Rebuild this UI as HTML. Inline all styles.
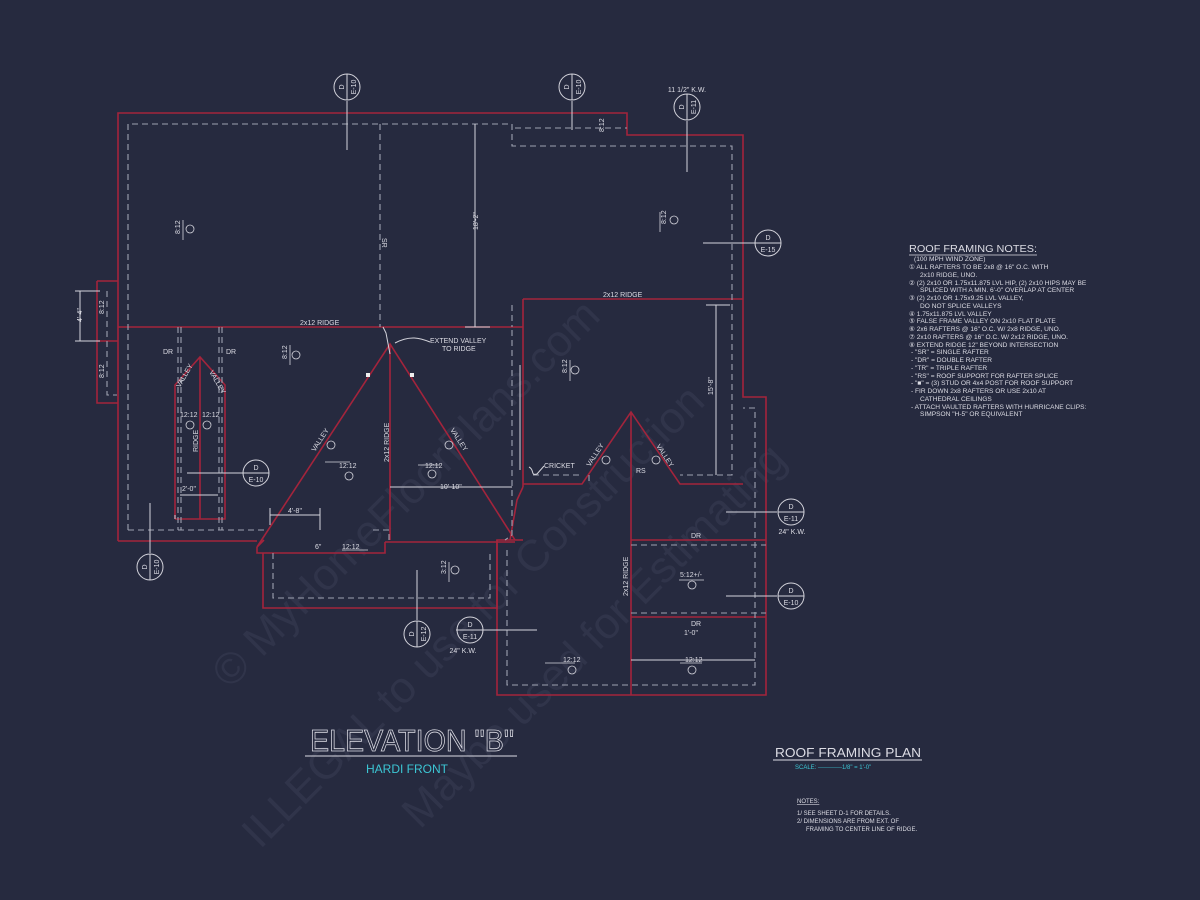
<!DOCTYPE html>
<html><head><meta charset="utf-8"><style>
html,body{margin:0;padding:0;background:#262a3f;}
svg{display:block}
text{font-family:"Liberation Sans",sans-serif;fill:#dcdce4;}
</style></head><body>
<svg width="1200" height="900" viewBox="0 0 1200 900" xmlns="http://www.w3.org/2000/svg">
<rect width="1200" height="900" fill="#262a3f"/>
<!-- watermark -->
<g font-size="44" font-family="Liberation Serif,serif">
<text x="230" y="690" transform="rotate(-45 230 690)" style="fill:#30344a">© MyHomeFloorPlans.com</text>
<text x="260" y="850" transform="rotate(-45 260 850)" style="fill:#30344a">ILLEGAL to use for Construction</text>
<text x="420" y="830" transform="rotate(-45 420 830)" style="fill:#30344a">Maybe used for Estimating</text>
</g>

<!-- red outlines -->
<g stroke="#a3243c" stroke-width="1.6" fill="none">
<path d="M118,541 V113 H627 V135 H743 V397 H766 V695 H497 V540 H523"/>
<path d="M118,327 H523"/>
<path d="M523,299 H743"/>
<path d="M523,299 V487"/>
<path d="M97,281 H118 M97,281 V403 H118 M97,341 H118"/>
<path d="M118,541 H257"/>
<path d="M257,547 L390,344 L515,540 M390,344 V540"/>
<path d="M257,547 L264,540 M257,547 V553 H385 V542 M385,542 H515"/>
<path d="M263,553 V608 H497 V540"/>
<path d="M523,484 H582 L631,412 L680,484 H743 M631,412 V695"/>
<path d="M523,487 L517,500 L510,540"/>
<path d="M631,540 H766 M631,617 H766"/>
<path d="M175,519 V385 L200,357 L225,385 V519 H175 M200,357 V519"/>
</g>

<!-- dashed inner lines -->
<g stroke="#9fa3b2" stroke-width="1.1" fill="none" stroke-dasharray="6,4">
<path d="M128,530 V124 H512 V146 H732 V475 H680"/>
<path d="M128,530 H268"/>
<path d="M380,124 V327"/>
<path d="M107,291 V395 H117"/>
<path d="M373,530 H389 V540"/>
<path d="M512,305 V327"/>
<path d="M512,330 V535 L505,540"/>
<path d="M533,475 H580 M589,475 V484"/>
<path d="M273,553 V598 H490 V553"/>
<path d="M507,550 V685 H755 V408 H743"/>
<path d="M178,327 V530 M181,327 V530 M219,327 V530 M222,327 V530"/>
<path d="M631,545 H766 M631,613 H766"/>
<path d="M515,128 H627"/>
</g>

<!-- thin white lines: dims and leaders -->
<g stroke="#d4d4dc" stroke-width="1" fill="none">
<path d="M475,124 V327 M465,327 H490"/>
<path d="M716,305 V475 M706,305 H730"/>
<path d="M347,101 V150 M572,101 V130 M687,121 V172 M703,243 H755"/>
<path d="M187,473 H243 M150,553 V503 M417,620 V570 M456,630 H537 M726,512 H777 M726,596 H777"/>
<path d="M390,487 H512 M270,515 H320 M270,508 V525 M320,508 V530"/>
<path d="M631,660 H755 M80,291 V341 M75,291 H100 M75,341 H100"/>
<path d="M180,495 L218,495 M175,515 V519"/>
<path d="M390,354 L386,333 L383,327 M395,343 C410,335 420,338 430,342"/>
<path d="M529,467 C535,470 530,476 537,474 L544,466"/>
<path d="M520,365 L520,470" />
</g>

<!-- circles -->
<g stroke="#d4d4dc" stroke-width="1" fill="none">
<circle cx="347" cy="87" r="13"/><line x1="347" y1="74" x2="347" y2="100"/>
<circle cx="572" cy="87" r="13"/><line x1="572" y1="74" x2="572" y2="100"/>
<circle cx="687" cy="107" r="13"/><line x1="687" y1="94" x2="687" y2="120"/>
<circle cx="768" cy="243" r="13"/><line x1="755" y1="243" x2="781" y2="243"/>
<circle cx="256" cy="473" r="13"/><line x1="243" y1="473" x2="269" y2="473"/>
<circle cx="150" cy="567" r="13"/><line x1="150" y1="554" x2="150" y2="580"/>
<circle cx="417" cy="634" r="13"/><line x1="417" y1="621" x2="417" y2="647"/>
<circle cx="470" cy="630" r="13"/><line x1="457" y1="630" x2="483" y2="630"/>
<circle cx="791" cy="512" r="13"/><line x1="778" y1="512" x2="804" y2="512"/>
<circle cx="791" cy="596" r="13"/><line x1="778" y1="596" x2="804" y2="596"/>
</g>
<g font-size="7" text-anchor="middle">
<text x="341" y="90" transform="rotate(-90 341 87)">D</text><text x="353" y="90" transform="rotate(-90 353 87)">E-10</text>
<text x="566" y="90" transform="rotate(-90 566 87)">D</text><text x="578" y="90" transform="rotate(-90 578 87)">E-10</text>
<text x="681" y="110" transform="rotate(-90 681 107)">D</text><text x="693" y="110" transform="rotate(-90 693 107)">E-11</text>
<text x="144" y="570" transform="rotate(-90 144 567)">D</text><text x="156" y="570" transform="rotate(-90 156 567)">E-10</text>
<text x="411" y="637" transform="rotate(-90 411 634)">D</text><text x="423" y="637" transform="rotate(-90 423 634)">E-12</text>
<text x="768" y="240">D</text><text x="768" y="252">E-15</text>
<text x="256" y="470">D</text><text x="256" y="482">E-10</text>
<text x="470" y="627">D</text><text x="470" y="639">E-11</text>
<text x="791" y="509">D</text><text x="791" y="521">E-11</text>
<text x="791" y="593">D</text><text x="791" y="605">E-10</text>
<text x="687" y="92">11 1/2" K.W.</text>
<text x="463" y="653">24" K.W.</text>
<text x="792" y="534">24" K.W.</text>
</g>

<!-- plan labels -->
<g font-size="7">
<text x="300" y="325">2x12 RIDGE</text>
<text x="603" y="297">2x12 RIDGE</text>
<text x="382" y="238" transform="rotate(90 382 238)">SR</text>
<text x="478" y="230" transform="rotate(-90 478 230)">18'-2"</text>
<text x="713" y="395" transform="rotate(-90 713 395)">15'-8"</text>
<text x="430" y="343">EXTEND VALLEY</text>
<text x="442" y="351">TO RIDGE</text>
<text x="163" y="354">DR</text><text x="226" y="354">DR</text>
<text x="544" y="468">CRICKET</text>
<text x="636" y="473">RS</text>
<text x="691" y="538">DR</text><text x="691" y="626">DR</text>
<text x="389" y="462" transform="rotate(-90 389 462)">2x12 RIDGE</text>
<text x="198" y="452" transform="rotate(-90 198 452)">RIDGE</text>
<text x="628" y="596" transform="rotate(-90 628 596)">2x12 RIDGE</text>
<text x="180" y="388" transform="rotate(-60 180 388)">VALLEY</text>
<text x="209" y="372" transform="rotate(60 209 372)">VALLEY</text>
<text x="315" y="452" transform="rotate(-57 315 452)">VALLEY</text>
<text x="450" y="430" transform="rotate(57 450 430)">VALLEY</text>
<text x="590" y="467" transform="rotate(-57 590 467)">VALLEY</text>
<text x="656" y="446" transform="rotate(57 656 446)">VALLEY</text>
<text x="180" y="417">12:12</text><text x="202" y="417">12:12</text>
<text x="339" y="468">12:12</text><text x="425" y="468">12:12</text>
<text x="342" y="549">12:12</text><text x="563" y="662">12:12</text><text x="685" y="662">12:12</text>
<text x="680" y="577">5:12+/-</text>
<text x="440" y="489">10'-10"</text><text x="288" y="513">4'-8"</text><text x="182" y="491">2'-0"</text>
<text x="684" y="635">1'-0"</text>
<text x="315" y="549">6"</text>
<text x="180" y="234" transform="rotate(-90 180 234)">8:12</text>
<text x="287" y="359" transform="rotate(-90 287 359)">8:12</text>
<text x="567" y="373" transform="rotate(-90 567 373)">8:12</text>
<text x="666" y="224" transform="rotate(-90 666 224)">8:12</text>
<text x="446" y="574" transform="rotate(-90 446 574)">3:12</text>
<text x="604" y="132" transform="rotate(-90 604 132)">8:12</text>
<text x="104" y="314" transform="rotate(-90 104 314)">8:12</text>
<text x="104" y="378" transform="rotate(-90 104 378)">8:12</text>
<text x="82" y="322" transform="rotate(-90 82 322)">4'-4"</text>
</g>
<g stroke="#d4d4dc" stroke-width="0.8" fill="none">
<circle cx="190" cy="229" r="4"/><circle cx="296" cy="355" r="4"/><circle cx="575" cy="370" r="4"/><circle cx="674" cy="220" r="4"/>
<circle cx="455" cy="570" r="4"/><circle cx="331" cy="445" r="4"/><circle cx="449" cy="445" r="4"/>
<circle cx="606" cy="460" r="4"/><circle cx="656" cy="460" r="4"/><circle cx="190" cy="425" r="4"/><circle cx="207" cy="425" r="4"/>
<circle cx="349" cy="476" r="4"/><circle cx="432" cy="474" r="4"/><circle cx="692" cy="585" r="4"/><circle cx="572" cy="670" r="4"/><circle cx="692" cy="670" r="4"/>
<path d="M183,220 V240 M290,345 V365 M570,360 V381 M660,212 V232 M449,562 V582 M679,580 H704 M545,663 H575 M680,663 H702 M325,462 H350 M418,465 H440 M342,550 H368"/>
</g>
<g fill="#eeeeee"><rect x="366" y="373" width="4" height="4"/><rect x="410" y="373" width="4" height="4"/></g>

<!-- titles -->
<text x="310" y="751" font-size="31" style="fill:none;stroke:#dcdce4;stroke-width:0.8" textLength="204" lengthAdjust="spacingAndGlyphs">ELEVATION "B"</text>
<line x1="305" y1="756" x2="517" y2="756" stroke="#dcdce4" stroke-width="1"/>
<text x="366" y="773" font-size="12" style="fill:#3cc6d4">HARDI FRONT</text>
<text x="775" y="757" font-size="13" textLength="146" lengthAdjust="spacingAndGlyphs">ROOF FRAMING PLAN</text>
<line x1="773" y1="760" x2="922" y2="760" stroke="#dcdce4" stroke-width="1"/>
<text x="795" y="769" font-size="6" style="fill:#3cc6d4">SCALE: ------------1/8" = 1'-0"</text>
<g font-size="6">
<text x="797" y="803" text-decoration="underline">NOTES:</text>
<text x="797" y="815">1/  SEE SHEET D-1 FOR DETAILS.</text>
<text x="797" y="823">2/  DIMENSIONS ARE FROM EXT. OF</text>
<text x="806" y="831">FRAMING TO CENTER LINE OF RIDGE.</text>
</g>
<text x="909" y="252" font-size="10.5" textLength="128" lengthAdjust="spacingAndGlyphs">ROOF FRAMING NOTES:</text>
<line x1="909" y1="255" x2="1037" y2="255" stroke="#dcdce4" stroke-width="0.8"/>
<g font-size="6.6">
<text x="914" y="261">(100 MPH WIND ZONE)</text>
<text x="909" y="269">①  ALL RAFTERS TO BE 2x8 @ 16" O.C. WITH</text>
<text x="920" y="277">2x10 RIDGE, UNO.</text>
<text x="909" y="285">②  (2) 2x10 OR 1.75x11.875 LVL HIP, (2) 2x10 HIPS MAY BE</text>
<text x="920" y="292">SPLICED WITH A MIN. 6'-0" OVERLAP AT CENTER</text>
<text x="909" y="300">③  (2) 2x10 OR 1.75x9.25 LVL VALLEY,</text>
<text x="920" y="308">DO NOT SPLICE VALLEYS</text>
<text x="909" y="316">④  1.75x11.875 LVL VALLEY</text>
<text x="909" y="323">⑤  FALSE FRAME VALLEY ON 2x10 FLAT PLATE</text>
<text x="909" y="331">⑥  2x6 RAFTERS @ 16" O.C. W/ 2x8 RIDGE, UNO.</text>
<text x="909" y="339">⑦  2x10 RAFTERS @ 16" O.C. W/ 2x12 RIDGE, UNO.</text>
<text x="909" y="347">⑧  EXTEND RIDGE 12" BEYOND INTERSECTION</text>
<text x="911" y="354">-   "SR" = SINGLE RAFTER</text>
<text x="911" y="362">-   "DR" = DOUBLE RAFTER</text>
<text x="911" y="370">-   "TR" = TRIPLE RAFTER</text>
<text x="911" y="378">-   "RS" = ROOF SUPPORT FOR RAFTER SPLICE</text>
<text x="911" y="385">-   "■" = (3) STUD OR 4x4 POST FOR ROOF SUPPORT</text>
<text x="911" y="393">-   FIR DOWN 2x8 RAFTERS OR USE 2x10 AT</text>
<text x="920" y="401">CATHEDRAL CEILINGS</text>
<text x="911" y="409">-   ATTACH VAULTED RAFTERS WITH HURRICANE CLIPS:</text>
<text x="920" y="416">SIMPSON "H-5" OR EQUIVALENT</text>
</g>
</svg>
</body></html>
